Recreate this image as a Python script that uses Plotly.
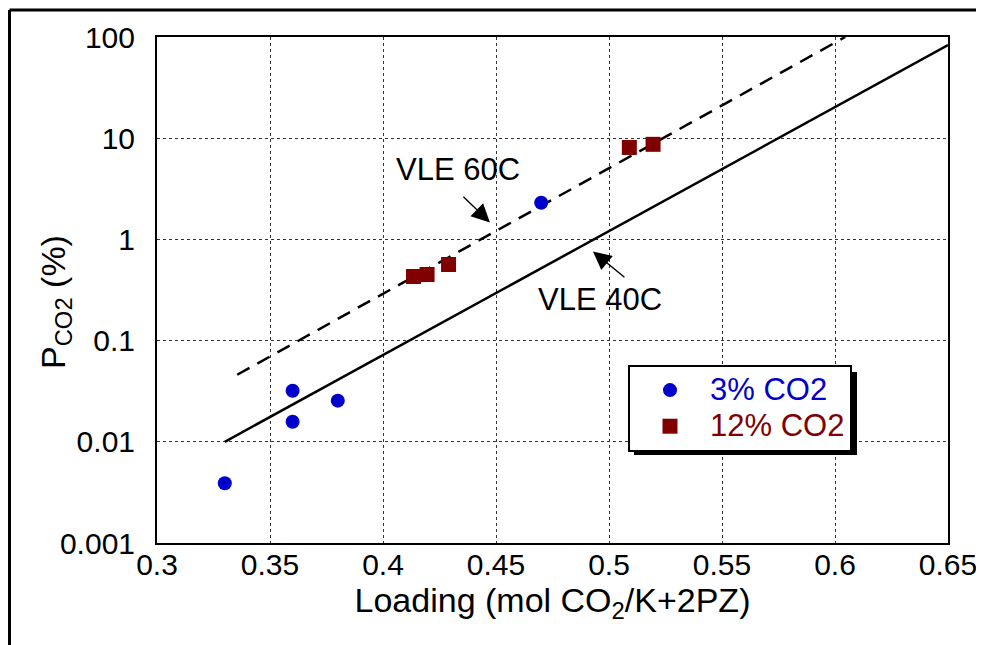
import plotly.graph_objects as go

# ---- data ----
x_3pct = [0.33, 0.36, 0.36, 0.38, 0.47]
y_3pct = [0.0039, 0.032, 0.0158, 0.0255, 2.3]

x_12pct = [0.4135, 0.4195, 0.429, 0.509, 0.5195]
y_12pct = [0.43, 0.45, 0.565, 8.1, 8.7]

x_vle40 = [0.33, 0.65]
y_vle40 = [0.0100, 83.0]

x_vle60 = [0.3355, 0.6045]
y_vle60 = [0.046, 100.0]

x_ticks = [0.3, 0.35, 0.4, 0.45, 0.5, 0.55, 0.6, 0.65]
x_ticktext = ["0.3", "0.35", "0.4", "0.45", "0.5", "0.55", "0.6", "0.65"]
y_ticks = [0.001, 0.01, 0.1, 1, 10, 100]
y_ticktext = ["0.001", "0.01", "0.1", "1", "10", "100"]

FONT = "Liberation Sans, Arial, sans-serif"
BLUE = "#0000CC"
DRED = "#800000"

fig = go.Figure()

fig.add_trace(go.Scatter(x=x_vle40, y=y_vle40, mode="lines",
                         line=dict(color="black", width=2.5),
                         showlegend=False, hoverinfo="skip"))
fig.add_trace(go.Scatter(x=x_vle60, y=y_vle60, mode="lines",
                         line=dict(color="black", width=2.5, dash="14px,9px"),
                         showlegend=False, hoverinfo="skip"))
fig.add_trace(go.Scatter(x=x_3pct, y=y_3pct, mode="markers",
                         name='<span style="color:' + BLUE + ';font-size:31px">3% CO2</span>',
                         marker=dict(symbol="circle", size=14, color=BLUE)))
fig.add_trace(go.Scatter(x=x_12pct, y=y_12pct, mode="markers",
                         name='<span style="color:' + DRED + ';font-size:31px">12% CO2</span>',
                         marker=dict(symbol="square", size=15, color=DRED)))

# the page body adds an 8 px offset; work in screen pixels
OFF = 8
W, H = 976, 637
L, T = 157 - OFF, 37 - OFF
R = W - (948 - OFF)
B = H - (543 - OFF)
pw, ph = W - L - R, H - T - B

def px2paper(px, py):
    return (px - OFF - L) / pw, (H - B - (py - OFF)) / ph

# outer frame (top and left edges)
fx0, fy0 = px2paper(9.5, 10)
fx1, fy1 = px2paper(1000, 660)
shapes = [
    dict(type="line", xref="paper", yref="paper", x0=fx0, y0=fy0, x1=fx1, y1=fy0,
         line=dict(color="black", width=3)),
    dict(type="line", xref="paper", yref="paper", x0=fx0, y0=fy0, x1=fx0, y1=fy1,
         line=dict(color="black", width=3)),
]
# legend shadow
sx0, sy0 = px2paper(634, 372)
sx1, sy1 = px2paper(857, 455)
shapes.append(dict(type="rect", xref="paper", yref="paper", x0=sx0, y0=sy0, x1=sx1, y1=sy1,
                   fillcolor="black", line=dict(width=0), layer="above"))

lx, ly = px2paper(628, 365)
tx, ty = px2paper(55, 302)

annotations = [
    dict(x=tx, y=ty, xref="paper", yref="paper", text="P<sub>CO2</sub> (%)", textangle=-90,
         showarrow=False, xanchor="center", yanchor="middle",
         font=dict(family=FONT, size=34, color="black")),
    dict(x=0.4332, y=0.693, xref="x", yref="y", text="VLE 60C", showarrow=False,
         font=dict(family=FONT, size=31, color="black")),
    dict(x=0.496, y=-0.594, xref="x", yref="y", text="VLE 40C", showarrow=False,
         font=dict(family=FONT, size=31, color="black")),
    dict(x=0.4473, y=0.168, xref="x", yref="y", text="", showarrow=True,
         ax=-28, ay=-27, arrowhead=2, arrowsize=2.6, arrowwidth=1.4, arrowcolor="black"),
    dict(x=0.4929, y=-0.119, xref="x", yref="y", text="", showarrow=True,
         ax=33, ay=27, arrowhead=2, arrowsize=2.6, arrowwidth=1.4, arrowcolor="black"),
]

grid = dict(showgrid=True, gridcolor="#333333", gridwidth=1, griddash="3px,3px",
            showline=True, linecolor="black", linewidth=2, mirror=True,
            ticks="", zeroline=False)

fig.update_layout(
    width=W, height=H,
    margin=dict(l=L, r=R, t=T, b=B),
    paper_bgcolor="white", plot_bgcolor="white",
    font=dict(family=FONT, size=30, color="black"),
    xaxis=dict(range=[0.3, 0.65], tickvals=x_ticks, ticktext=x_ticktext,
               tickfont=dict(size=30), ticklabelstandoff=-6,
               title=dict(text="Loading (mol CO<sub>2</sub>/K+2PZ)", font=dict(size=34), standoff=4),
               automargin=False, **grid),
    yaxis=dict(type="log", range=[-3, 2], tickvals=y_ticks, ticktext=y_ticktext,
               tickfont=dict(size=30), ticklabelstandoff=14,
               automargin=False, **grid),
    legend=dict(x=lx, y=ly, xanchor="left", yanchor="top",
                bgcolor="white", bordercolor="black", borderwidth=2,
                font=dict(family=FONT, size=25.5), itemsizing="trace",
                itemwidth=70, tracegroupgap=0),
    shapes=shapes,
    annotations=annotations,
)

fig.write_html("out.html")
